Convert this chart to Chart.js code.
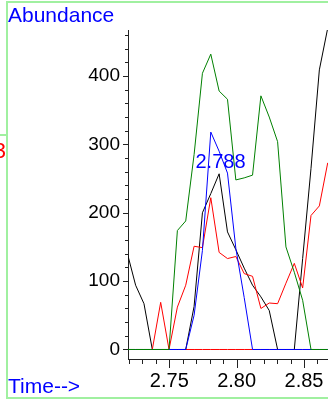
<!DOCTYPE html>
<html>
<head>
<meta charset="utf-8">
<script src="https://cdn.jsdelivr.net/npm/chart.js@4.4.0/dist/chart.umd.min.js"></script>
<style>
  html, body { margin: 0; padding: 0; background: #fff; }
  #wrap { width: 328px; height: 399px; }
</style>
</head>
<body>
<div id="wrap"><canvas id="chromChart" width="328" height="399"></canvas></div>
<script>
// retention times (min) of the scans
const times = [2.7188, 2.7250, 2.7312, 2.7374, 2.7436, 2.7498, 2.7560, 2.7622, 2.7684, 2.7746,
               2.7808, 2.7870, 2.7932, 2.7994, 2.8056, 2.8118, 2.8180, 2.8242, 2.8304, 2.8366,
               2.8428, 2.8490, 2.8552, 2.8614, 2.8676];

// abundance of each ion trace
const ionBlack = [141, 94, 67, 0, 0, 0, 0, 0, 63, 200, 228, 257, 172, 146, 119, 94, 77, 57, 0, 0, 0, 133, 265, 409, 470];
const ionRed   = [0, 0, 0, 0, 69, 0, 62, 94, 151, 149, 222, 142, 133, 136, 111, 107, 60, 68, 67, 97, 126, 90, 196, 210, 273];
const ionBlue  = [0, 0, 0, 0, 0, 0, 0, 0, 50, 145, 318, 290, 258, 148, 76, 0, 0, 0, 0, 0, 0, 0, 0, 0, 0];
const ionGreen = [0, 0, 0, 0, 0, 0, 174, 188, 285, 404, 432, 378, 366, 248, 251, 255, 371, 340, 304, 150, 113, 72, 0, 0, 0];
const baseline = [0, 0, 0, 0, 0, 0, 0, 0, 0, 0, 0, 0, 0, 0, 0, 0, 0, 0, 0, 0, 0, 0, 0, 0, 0];

// axis ticks
const xMajorTicks = [2.75, 2.80, 2.85];
const xMinorTicks = [2.72, 2.73, 2.74, 2.75, 2.76, 2.77, 2.78, 2.79, 2.80, 2.81, 2.82, 2.83, 2.84, 2.85, 2.86];
const yMajorTicks = [0, 100, 200, 300, 400];
const yMinorTicks = [0, 20, 40, 60, 80, 100, 120, 140, 160, 180, 200, 220, 240, 260, 280, 300, 320, 340, 360, 380, 400, 420, 440, 460];

// peak label
const peakTimes = [2.788];
const peakLevels = [265];

const FONT = '"Liberation Sans", Arial, sans-serif';

function toPoints(values) {
    return times.map((t, i) => ({ x: t, y: values[i] }));
}

function lineSet(label, values, color) {
    return {
        label: label,
        data: toPoints(values),
        borderColor: color,
        borderWidth: 1,
        pointRadius: 0,
        fill: false,
        tension: 0
    };
}

const decorPlugin = {
    id: 'decor',
    afterDraw(chart) {
        const ctx = chart.ctx;
        const xs = chart.scales.x;
        const ys = chart.scales.y;
        const area = chart.chartArea;
        ctx.save();

        // tick marks
        ctx.strokeStyle = '#222';
        ctx.lineWidth = 1;
        ctx.beginPath();
        xMinorTicks.forEach(v => {
            const px = Math.round(xs.getPixelForValue(v)) + 0.5;
            const len = xMajorTicks.some(m => Math.abs(m - v) < 1e-6) ? 9 : 5;
            ctx.moveTo(px, area.bottom);
            ctx.lineTo(px, area.bottom + len);
        });
        yMinorTicks.forEach(v => {
            const py = Math.round(ys.getPixelForValue(v)) + 0.5;
            const len = yMajorTicks.includes(v) ? 5 : 3;
            ctx.moveTo(area.left, py);
            ctx.lineTo(area.left - len, py);
        });
        ctx.stroke();

        // green frame
        ctx.strokeStyle = 'rgb(160,240,160)';
        ctx.lineWidth = 2;
        ctx.beginPath();
        ctx.moveTo(330, 2);
        ctx.lineTo(7, 2);
        ctx.lineTo(7, 398);
        ctx.lineTo(330, 398);
        ctx.moveTo(0, 135);
        ctx.lineTo(7, 135);
        ctx.stroke();

        // texts
        ctx.fillStyle = '#0000ff';
        ctx.font = '21px ' + FONT;
        ctx.textAlign = 'left';
        ctx.textBaseline = 'alphabetic';
        ctx.fillText('Abundance', 8, 22);
        ctx.fillText('Time-->', 8, 393);

        ctx.font = '20px ' + FONT;
        ctx.textAlign = 'center';
        peakTimes.forEach((t, i) => {
            ctx.fillText(t.toFixed(3), xs.getPixelForValue(t), ys.getPixelForValue(peakLevels[i]));
        });

        ctx.fillStyle = '#ff0000';
        ctx.font = '22px ' + FONT;
        ctx.textAlign = 'right';
        ctx.fillText('3', 6, 158);

        ctx.restore();
    }
};

const ctx = document.getElementById('chromChart').getContext('2d');
const chromChart = new Chart(ctx, {
    type: 'line',
    data: {
        datasets: [
            lineSet('green', ionGreen, '#008000'),
            lineSet('blue', ionBlue, '#0000ff'),
            lineSet('red', ionRed, '#ff0000'),
            lineSet('black', ionBlack, '#000000'),
            lineSet('base', baseline, '#ff0000')
        ]
    },
    options: {
        responsive: false,
        animation: false,
        devicePixelRatio: 1,
        layout: { padding: { top: 30, left: 0, right: 0, bottom: 0 } },
        plugins: {
            legend: { display: false },
            tooltip: { enabled: false }
        },
        scales: {
            x: {
                type: 'linear',
                min: 2.71934,
                max: 2.86782,
                grid: { display: false, drawTicks: false },
                border: { display: true, color: '#222', width: 1 },
                afterBuildTicks: scale => { scale.ticks = xMajorTicks.map(v => ({ value: v })); },
                afterFit: scale => {
                    scale.height = 40;
                    scale.paddingLeft = 0;
                    scale.paddingRight = 0;
                },
                ticks: {
                    color: '#000',
                    padding: 10,
                    maxRotation: 0,
                    autoSkip: false,
                    font: { family: FONT, size: 20 },
                    callback: v => v.toFixed(2)
                }
            },
            y: {
                min: -13.9,
                max: 467.3,
                grid: { display: false, drawTicks: false },
                border: { display: true, color: '#222', width: 1 },
                afterBuildTicks: scale => { scale.ticks = yMajorTicks.map(v => ({ value: v })); },
                afterFit: scale => {
                    scale.width = 128;
                    scale.paddingTop = 0;
                    scale.paddingBottom = 0;
                },
                ticks: {
                    color: '#000',
                    padding: 8,
                    autoSkip: false,
                    font: { family: FONT, size: 19 },
                    callback: v => String(v)
                }
            }
        }
    },
    plugins: [decorPlugin]
});
</script>
</body>
</html>
